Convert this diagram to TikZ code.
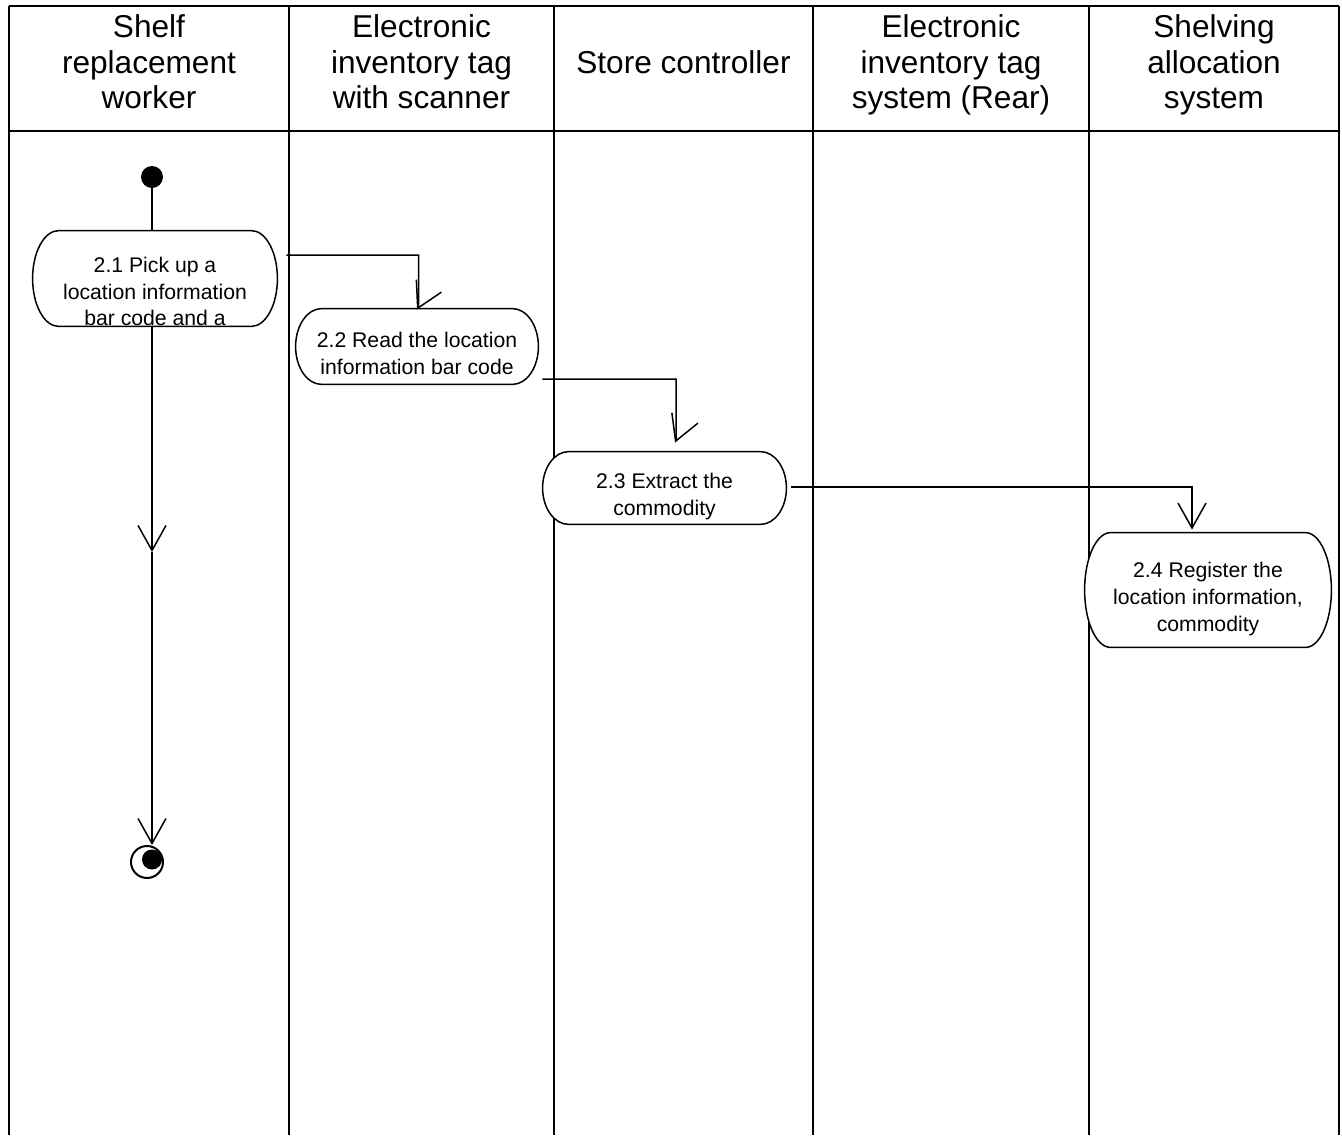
\documentclass[tikz,border=0pt]{standalone}
\usepackage{fontspec}
\setmainfont{Liberation Sans}
\usetikzlibrary{arrows.meta,calc}

\begin{document}
\begin{tikzpicture}[
  x=0.5pt,y=-0.5pt,
  lane/.style={line width=1pt},
  title/.style={align=center,inner sep=0pt,font=\fontsize{15.8}{17.85}\selectfont},
  pillpath/.style={to path={
      let \p1=(\tikztostart),\p2=(\tikztotarget),\n1={0.5*abs(\y1-\y2)} in
      (\x1+13pt,\y1) -- (\x2-13pt,\y1)
      arc[start angle=90,end angle=-90,x radius=13pt,y radius=\n1]
      -- (\x1+13pt,\y2)
      arc[start angle=270,end angle=90,x radius=13pt,y radius=\n1]
      -- cycle}},
  pill/.style={rectangle,inner sep=0pt,
    append after command={(\tikzlastnode.north west)
      edge[draw,fill=white,line width=0.75pt,pillpath] (\tikzlastnode.south east)}},
  acttxt/.style={align=center,inner sep=0pt,font=\fontsize{10.6}{13.3}\selectfont},
  flow/.style={line width=0.75pt,-{Straight Barb[length=12.5pt,width=14pt]}},
  dot/.style={circle,fill,inner sep=0pt,minimum size=11pt}
]
\useasboundingbox (0,0) rectangle (1342,1135);
\draw[lane] (9,6) -- (1339,6);
\draw[lane] (9,131) -- (1339,131);
\foreach \x in {9,289,554,813,1089,1339}
  \draw[lane] (\x,6) -- (\x,1135);

\node[title] (l1) at (149,62) {Shelf\\replacement\\worker};
\node[title] (l2) at (421.5,62) {Electronic\\inventory tag\\with scanner};
\node[title] (l3) at (683.5,62) {Store controller};
\node[title] (l4) at (951,65) {Electronic\\inventory tag\\system (Rear)};
\node[title] (l5) at (1214,65) {Shelving\\allocation\\system};

\node[dot] (ini) at (152,177) {};
\node[pill,minimum width=122pt,minimum height=47.5pt] (a21) at (155,278.5) {};
\node[pill,minimum width=121pt,minimum height=37.5pt] (a22) at (417,346.5) {};
\node[pill,minimum width=121.5pt,minimum height=36pt] (a23) at (664.5,488) {};
\node[pill,minimum width=123pt,minimum height=57pt] (a24) at (1208,590) {};
\node[acttxt] (t21) at ($(a21)+(0,13)$) {2.1 Pick up a\\location information\\bar code and a};
\node[acttxt] (t22) at ($(a22)+(0,7)$) {2.2 Read the location\\information bar code};
\node[acttxt] (t23) at ($(a23)+(0,8.5)$) {2.3 Extract the\\commodity};
\node[acttxt] (t24) at ($(a24)+(0,9)$) {2.4 Register the\\location information,\\commodity};
\node[circle,draw,line width=1pt,inner sep=0pt,minimum size=16pt] (fin) at (147,862) {};
\fill ($(fin.center)+(5,-2.5)$) circle[radius=5pt];
\coordinate (mid) at (152,552);

\draw[line width=0.75pt] (ini) -- (ini |- a21.north);
\draw[flow] (ini |- a21.south) -- (mid);
\draw[flow] (mid) -- (mid |- fin.north);
\draw[flow] ($(a21.east)+(9,-23.5)$) -| ($(a22.north)+(1.5,-2)$) -- ($(a22.north)+(0,1)$);
\draw[flow] ($(a22.east)+(4,32.5)$) -| ($(a23.north)+(11.5,-11.5)$) -- ($(a23.north)+(10.5,-9)$);
\draw[flow] ($(a23.east)+(5,-1)$) -| ($(a24.north)+(-16,-3)$);
\end{tikzpicture}
\end{document}
